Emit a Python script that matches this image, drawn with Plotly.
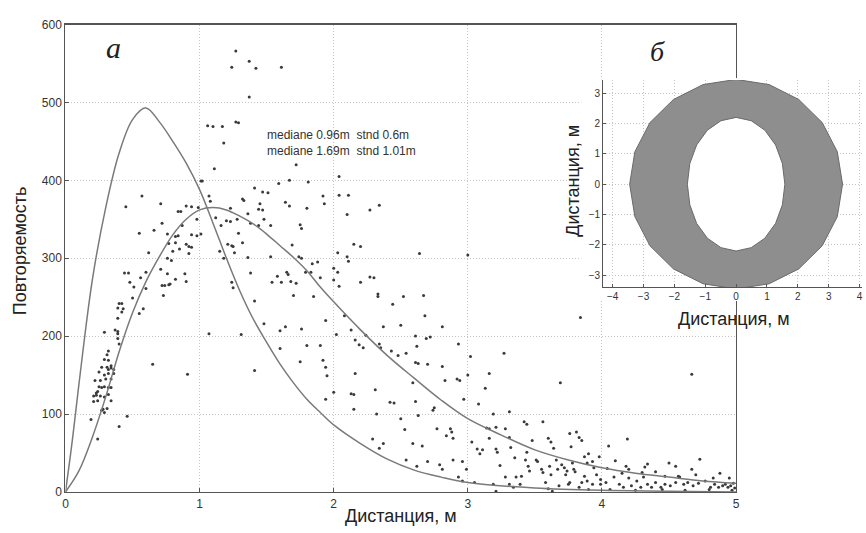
import plotly.graph_objects as go

W, H = 866, 533

# ---------------- data ----------------
# fitted curve 1 (narrow)
curve1_x = [0, 0.05, 0.1, 0.2, 0.3, 0.4, 0.5, 0.6, 0.7, 0.8, 0.9, 1.0, 1.1, 1.2, 1.3, 1.4, 1.5,
            1.6, 1.7, 1.8, 1.9, 2.0, 2.2, 2.4, 2.6, 2.8, 3.0, 3.5, 4.0, 4.5, 5.0]
curve1_y = [0, 65, 138, 272, 365, 435, 478, 493, 475, 450, 422, 388, 345, 300, 258, 222, 192,
            164, 140, 119, 102, 86, 62, 42, 28, 19, 12, 5, 2, 1, 0]

# fitted curve 2 (wide)
curve2_x = [0, 0.1, 0.2, 0.3, 0.4, 0.5, 0.6, 0.7, 0.8, 0.9, 1.0, 1.1, 1.2, 1.3, 1.4, 1.5, 1.6, 1.7,
            1.8, 1.9, 2.0, 2.2, 2.4, 2.6, 2.8, 3.0, 3.25, 3.5, 3.75, 4.0, 4.25, 4.5, 4.75, 5.0]
curve2_y = [0, 27, 70, 122, 180, 230, 270, 302, 330, 350, 362, 365, 362, 354, 344, 331, 316, 301,
            284, 263, 244, 208, 175, 146, 118, 94, 73, 54, 41, 31, 24, 19, 14, 11]

# observed points
dist_x = [
    1.37, 1.06, 1.10, 1.17, 1.27, 1.29, 1.18, 1.11, 1.01, 1.02, 1.72, 1.59, 1.67, 1.81, 2.04, 2.04, 1.41, 1.47,
    1.51, 1.32, 1.33, 1.07, 1.08, 1.45, 1.44, 1.47, 1.64, 1.67, 1.80, 1.93, 1.92, 1.23, 1.36, 1.38, 1.44, 1.48,
    1.53, 1.12, 1.16, 1.20, 1.23, 1.28, 1.29, 1.32, 1.21, 1.24, 1.25, 1.26, 1.15, 1.18, 1.36, 1.53, 1.69, 1.74,
    1.76, 1.38, 1.24, 1.25, 1.41, 1.58, 1.65, 1.66, 1.54, 1.61, 1.68, 1.72, 1.70, 1.79, 1.84, 1.88, 1.83, 1.90,
    1.85, 2.00, 2.03, 2.00, 2.03, 2.04, 1.48, 1.60, 1.64, 1.76, 1.94, 2.02, 1.31, 1.07, 1.60, 1.80, 1.90, 1.75,
    1.92, 1.94, 1.95, 1.41, 2.00, 1.94, 0.91, 0.65,
    0.45, 0.57, 0.71, 0.55, 0.66, 0.72, 0.62, 0.76, 0.77, 0.82, 0.84, 0.82, 0.85, 0.80, 0.76, 0.79, 0.90, 0.92,
    0.94, 0.92, 0.84, 0.86, 0.90, 0.94, 0.99, 0.98, 0.98, 1.01, 0.87, 0.94, 0.71, 0.76, 0.82, 0.89, 0.90, 0.72,
    0.74, 0.77, 0.78, 0.73, 0.60, 0.56, 0.60, 0.44, 0.47, 0.48, 0.51, 0.50, 0.55, 0.58, 0.40, 0.42, 0.39, 0.42,
    0.43, 0.39, 0.37, 0.39, 0.39, 0.39, 0.40, 0.29, 0.32, 0.31, 0.29, 0.32, 0.34, 0.31, 0.34, 0.27, 0.36, 0.32,
    0.36, 0.32, 0.29, 0.25, 0.30, 0.22, 0.26, 0.34, 0.29, 0.32, 0.25, 0.27, 0.34, 0.21, 0.23, 0.26, 0.29, 0.32,
    0.21, 0.24, 0.34, 0.28, 0.31, 0.27, 0.19, 0.24, 0.40, 0.46, 0.29, 0.23, 0.24,
    2.11, 2.10, 2.27, 2.34, 1.75, 1.76, 2.15, 2.20, 2.64, 3.00, 2.10, 1.27, 1.24, 1.37, 1.42, 1.61,
    2.11, 2.20, 2.27, 2.30, 2.33, 2.33, 2.44, 2.52, 2.67, 2.68, 2.08, 2.13, 2.16, 2.19, 2.22, 2.24, 2.34, 2.35,
    2.37, 2.43, 2.48, 2.50, 2.54, 2.61, 2.62, 2.69, 2.72, 2.61, 2.63, 2.70, 2.81, 2.81, 2.83, 2.93, 2.92, 2.94,
    3.00, 3.02, 2.97, 3.08, 3.16, 3.13, 3.27, 3.19, 3.31, 2.13, 2.15, 2.16, 2.15, 2.31, 2.42, 2.45, 2.32, 2.29,
    2.34, 2.37, 2.50, 2.53, 2.54, 2.59, 2.61, 2.59, 2.62, 2.63, 2.66, 2.70, 2.74, 2.75, 2.77, 2.79, 2.81, 2.87,
    2.88, 2.84, 2.89, 2.89, 2.96, 2.93, 2.96, 2.99, 3.03, 3.05, 3.07, 3.09, 3.11, 3.14, 3.16, 3.16, 3.21, 3.21,
    3.22, 3.19, 3.21, 3.24, 3.28, 3.31, 3.32, 3.35, 3.28, 3.31, 3.34, 3.36, 3.39, 3.40, 3.43, 3.44, 3.45, 3.46,
    3.42, 3.44, 3.48, 3.51, 3.52, 3.55, 3.56, 3.56, 3.58, 3.60, 3.62, 3.61, 3.62, 3.63, 3.64, 3.66, 3.67, 3.69,
    3.70, 3.72, 3.73, 3.74, 3.75, 3.77, 3.78, 3.80, 3.81, 3.83, 3.85, 3.87, 3.89, 3.90, 3.93, 3.94, 3.96, 3.84,
    4.67, 3.76, 3.85, 3.93, 4.19, 4.05, 4.18, 4.20, 4.04, 4.34, 4.32, 4.50, 4.73, 4.67, 4.47, 4.57, 4.83, 4.95,
    3.79, 3.87, 3.89, 3.99, 3.99, 4.03, 4.09, 4.13, 4.16, 4.20, 4.22, 4.26, 4.29, 4.31, 4.34, 4.37, 4.40, 4.44,
    4.47, 4.51, 4.55, 4.58, 4.61, 4.64, 4.68, 4.72, 4.77, 4.81, 4.84, 4.87, 4.90, 4.92, 4.94, 4.96, 4.98, 4.99,
    3.68, 3.76, 3.83, 4.30, 4.06, 4.25, 4.45, 4.62, 4.80, 4.97, 3.90, 3.60, 4.15, 4.40, 4.70, 4.88, 4.55, 4.10,
    3.98,
]
rep_y = [
    507, 470, 469, 469, 475, 474, 448, 415, 399, 399, 420, 396, 400, 398, 405, 381, 390, 385,
    384, 376, 374, 380, 373, 370, 363, 362, 372, 367, 364, 370, 380, 364, 357, 345, 342, 350,
    342, 352, 342, 348, 347, 350, 332, 320, 318, 316, 315, 307, 309, 300, 301, 302, 317, 302,
    300, 281, 269, 262, 245, 277, 282, 279, 269, 269, 270, 268, 252, 282, 293, 295, 282, 275,
    251, 287, 282, 272, 307, 264, 216, 207, 212, 209, 220, 202, 202, 203, 184, 188, 188, 167,
    169, 160, 149, 156, 128, 119, 151, 164,
    366, 380, 370, 332, 336, 345, 307, 331, 319, 328, 329, 320, 312, 309, 300, 297, 318, 315,
    314, 306, 360, 360, 367, 366, 365, 350, 329, 331, 342, 330, 286, 280, 273, 280, 270, 265,
    265, 266, 267, 252, 282, 275, 261, 281, 281, 269, 263, 249, 229, 235, 242, 242, 236, 231,
    235, 223, 208, 206, 203, 197, 190, 205, 181, 176, 170, 169, 162, 160, 159, 160, 157, 157,
    152, 152, 150, 154, 145, 143, 143, 145, 135, 134, 135, 134, 134, 123, 124, 123, 122, 125,
    116, 117, 117, 106, 107, 105, 93, 68, 84, 97, 102, 127, 129,
    381, 356, 362, 368, 343, 338, 318, 315, 306, 304, 302, 566, 545, 553, 544, 545,
    296, 269, 276, 275, 254, 251, 241, 251, 252, 226, 226, 208, 195, 189, 185, 201, 190, 185,
    212, 181, 175, 214, 178, 200, 187, 197, 199, 166, 165, 164, 212, 161, 143, 190, 145, 143,
    150, 174, 119, 113, 152, 133, 178, 100, 103, 126, 125, 152, 106, 131, 115, 114, 100, 68,
    56, 62, 94, 80, 41, 62, 116, 140, 33, 98, 59, 39, 105, 108, 81, 35, 29, 81,
    77, 72, 69, 41, 39, 19, 14, 29, 64, 12, 55, 49, 54, 82, 81, 69, 83, 55,
    51, 10, 1, 34, 81, 70, 57, 44, 19, 10, 6, 19, 10, 20, 41, 51, 33, 27,
    90, 87, 66, 41, 39, 29, 25, 90, 12, 69, 64, 33, 22, 1, 56, 41, 29, 140,
    35, 31, 22, 27, 10, 58, 37, 26, 77, 70, 12, 45, 37, 49, 10, 31, 22, 224,
    151, 75, 66, 39, 68, 59, 33, 29, 30, 36, 32, 37, 42, 29, 20, 20, 18, 18,
    29, 20, 14, 16, 10, 12, 19, 10, 6, 18, 8, 14, 6, 19, 10, 6, 12, 6,
    10, 8, 12, 19, 10, 12, 8, 11, 14, 6, 10, 6, 8, 10, 6, 8, 11, 5,
    8, 12, 6, 25, 3, 2, 3, 2, 3, 2, 3, 4, 24, 26, 22, 24, 33, 40,
    45,
]

# inset ring (outer polygon and inner elliptical hole), metres
ring_outer_x = [3.45, 3.28, 2.79, 2.03, 1.07, 0, -1.07, -2.03, -2.79, -3.28, -3.45,
                -3.28, -2.79, -2.03, -1.07, 0, 1.07, 2.03, 2.79, 3.28, 3.45]
ring_outer_y = [0, 1.07, 2.03, 2.79, 3.28, 3.45, 3.28, 2.79, 2.03, 1.07, 0,
                -1.07, -2.03, -2.79, -3.28, -3.45, -3.28, -2.79, -2.03, -1.07, 0]
ring_inner_x = [1.58, 1.50, 1.28, 0.93, 0.49, 0, -0.49, -0.93, -1.28, -1.50, -1.58,
                -1.50, -1.28, -0.93, -0.49, 0, 0.49, 0.93, 1.28, 1.50, 1.58]
ring_inner_y = [0, 0.68, 1.29, 1.78, 2.09, 2.2, 2.09, 1.78, 1.29, 0.68, 0,
                -0.68, -1.29, -1.78, -2.09, -2.2, -2.09, -1.78, -1.29, -0.68, 0]

main_xticks = [0, 1, 2, 3, 4, 5]
main_yticks = [0, 100, 200, 300, 400, 500, 600]
inset_xticks = [-4, -3, -2, -1, 0, 1, 2, 3, 4]
inset_yticks = [-3, -2, -1, 0, 1, 2, 3]

stat_lines = ["mediane 0.96m\u00a0 stnd 0.6m", "mediane 1.69m\u00a0 stnd 1.01m"]

# ---------------- figure ----------------
def px_x(p):
    return p / W

def px_y(p):
    return 1 - p / H

FONT = "Liberation Sans, Arial, sans-serif"
SERIF = "Liberation Serif, Times New Roman, serif"

fig = go.Figure()

fig.add_trace(go.Scatter(x=dist_x, y=rep_y, mode="markers",
                         marker=dict(size=3, color="#3a3a3a"), hoverinfo="skip",
                         xaxis="x", yaxis="y"))
fig.add_trace(go.Scatter(x=curve1_x, y=curve1_y, mode="lines", line_shape="spline",
                         line=dict(color="#7a7a7a", width=1.5), hoverinfo="skip",
                         xaxis="x", yaxis="y"))
fig.add_trace(go.Scatter(x=curve2_x, y=curve2_y, mode="lines", line_shape="spline",
                         line=dict(color="#7a7a7a", width=1.5), hoverinfo="skip",
                         xaxis="x", yaxis="y"))

# white cover subplot (only its background is drawn)
fig.add_trace(go.Scatter(x=[0], y=[0], mode="markers", marker=dict(opacity=0),
                         hoverinfo="skip", xaxis="x2", yaxis="y2"))

# inset ring
fig.add_trace(go.Scatter(x=ring_outer_x, y=ring_outer_y, mode="lines", fill="toself",
                         fillcolor="#8e8e8e", line=dict(color="#6a6a6a", width=1),
                         hoverinfo="skip", xaxis="x3", yaxis="y3"))
fig.add_trace(go.Scatter(x=ring_inner_x, y=ring_inner_y, mode="lines", fill="toself",
                         fillcolor="white", line=dict(color="#6a6a6a", width=1),
                         hoverinfo="skip", xaxis="x3", yaxis="y3"))

grid = dict(showgrid=True, gridcolor="#c4c4c4", griddash="1px,2px", gridwidth=1, zeroline=False)

fig.update_layout(
    width=W, height=H,
    margin=dict(l=0, r=0, t=0, b=0),
    paper_bgcolor="white", plot_bgcolor="white",
    showlegend=False,
    font=dict(family=FONT, color="#333"),
    xaxis=dict(domain=[px_x(63), px_x(739)], range=[0, 5], tickvals=main_xticks,
               showline=True, mirror=True, linecolor="#555", linewidth=1.2,
               ticks="inside", ticklen=4, tickcolor="#555",
               tickfont=dict(size=12, color="#333"), anchor="y", **grid),
    yaxis=dict(domain=[px_y(498), px_y(18)], range=[0, 600], tickvals=main_yticks,
               showline=True, mirror=True, linecolor="#555", linewidth=1.2,
               ticks="inside", ticklen=4, tickcolor="#555",
               tickfont=dict(size=12, color="#333"), anchor="x", **grid),
    xaxis2=dict(domain=[px_x(583), 1.0], range=[0, 1], visible=False, anchor="y2"),
    yaxis2=dict(domain=[px_y(302), px_y(73)], range=[0, 1], visible=False, anchor="x2"),
    xaxis3=dict(domain=[px_x(605), 1.0], range=[-4.31, 4.08], tickvals=inset_xticks,
                showline=True, mirror=False, linecolor="#555", linewidth=1,
                ticks="inside", ticklen=3, tickcolor="#555",
                tickfont=dict(size=10, color="#333"), anchor="y3", **grid),
    yaxis3=dict(domain=[px_y(288), px_y(75)], range=[-3.40, 3.43], tickvals=inset_yticks,
                showline=True, mirror=False, linecolor="#555", linewidth=1,
                ticks="inside", ticklen=3, tickcolor="#555",
                tickfont=dict(size=10, color="#333"), anchor="x3", **grid),
)

ann = []
# main axis titles
ann.append(dict(text="Дистанция, м", x=px_x(401), y=px_y(523), xref="paper", yref="paper",
                xanchor="center", yanchor="middle", showarrow=False,
                font=dict(size=18, family=FONT, color="#222")))
ann.append(dict(text="Повторяемость", x=px_x(18), y=px_y(250), xref="paper", yref="paper",
                xanchor="center", yanchor="middle", textangle=-90, showarrow=False,
                font=dict(size=18, family=FONT, color="#222")))
# inset axis titles
ann.append(dict(text="Дистанция, м", x=px_x(737), y=px_y(320), xref="paper", yref="paper",
                xanchor="center", yanchor="middle", showarrow=False,
                font=dict(size=18, family=FONT, color="#222")))
ann.append(dict(text="Дистанция, м", x=px_x(575), y=px_y(178), xref="paper", yref="paper",
                xanchor="center", yanchor="middle", textangle=-90, showarrow=False,
                font=dict(size=18, family=FONT, color="#222")))
# panel letters
ann.append(dict(text="<i>а</i>", x=px_x(111), y=px_y(42), xref="paper", yref="paper",
                xanchor="center", yanchor="middle", showarrow=False,
                font=dict(size=30, family=SERIF, color="#222")))
ann.append(dict(text="<i>б</i>", x=px_x(660), y=px_y(46), xref="paper", yref="paper",
                xanchor="center", yanchor="middle", showarrow=False,
                font=dict(size=28, family=SERIF, color="#222")))
# statistics text
for i, line in enumerate(stat_lines):
    ann.append(dict(text=line, x=px_x(264), y=px_y(131 + 17 * i), xref="paper", yref="paper",
                    xanchor="left", yanchor="middle", showarrow=False,
                    font=dict(size=12, family=FONT, color="#333")))

fig.update_layout(annotations=ann)

fig.write_html("out.html", config={"displayModeBar": False, "staticPlot": True},
               post_script="document.body.style.margin='0';document.body.style.overflow='hidden';")
